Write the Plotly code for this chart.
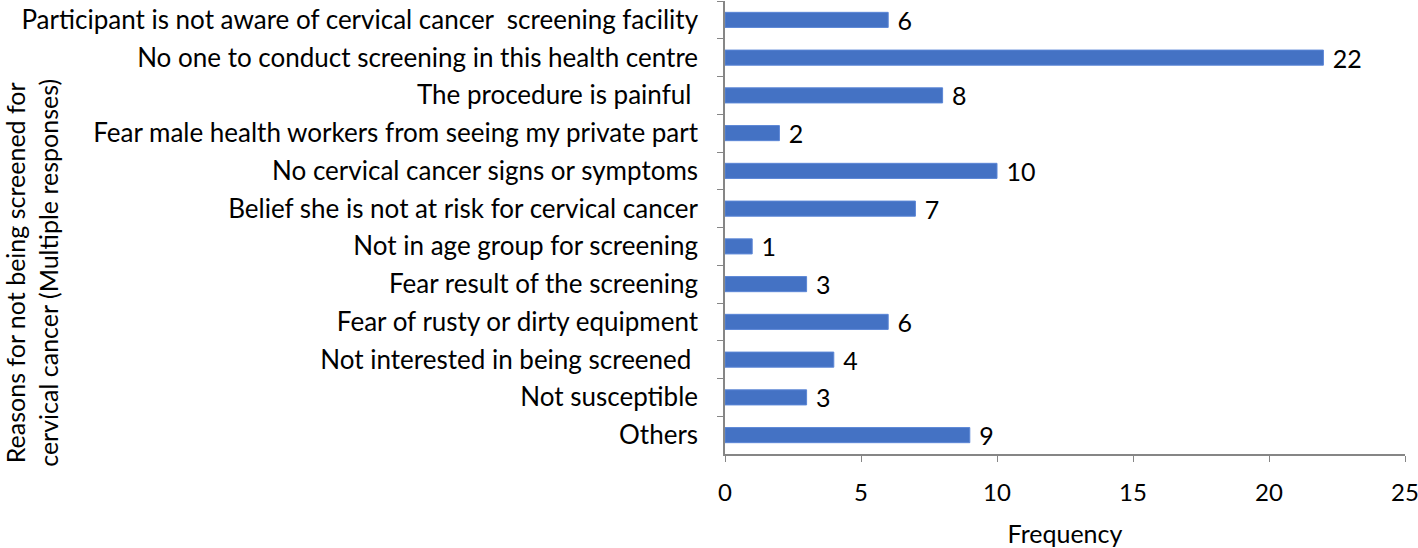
import plotly.graph_objects as go

categories = [
    "Participant is not aware of cervical cancer  screening facility",
    "No one to conduct screening in this health centre",
    "The procedure is painful ",
    "Fear male health workers from seeing my private part",
    "No cervical cancer signs or symptoms",
    "Belief she is not at risk for cervical cancer",
    "Not in age group for screening",
    "Fear result of the screening",
    "Fear of rusty or dirty equipment",
    "Not interested in being screened ",
    "Not susceptible",
    "Others",
]
values = [6, 22, 8, 2, 10, 7, 1, 3, 6, 4, 3, 9]
x_ticks = [0, 5, 10, 15, 20, 25]

FONT = "Lato"
FS = 25
fig = go.Figure(go.Bar(
    y=categories, x=values, orientation="h",
    marker=dict(color="#4472C4", line=dict(color="#5B86D6", width=1)),
    text=[f" {v}" for v in values], textposition="outside",
    constraintext="none",
    textfont=dict(family=FONT, size=FS, color="black"),
    cliponaxis=False,
))

fig.update_layout(
    width=1418, height=548,
    margin=dict(l=725, r=13, t=1, b=94),
    plot_bgcolor="white", paper_bgcolor="white",
    bargap=0.6, showlegend=False,
    font=dict(family=FONT, size=FS, color="black"),
    xaxis=dict(
        range=[0, 25], tickvals=x_ticks, showgrid=False, zeroline=False,
        showline=True, linecolor="#868686", linewidth=1.5,
        ticks="outside", ticklen=6, tickcolor="#868686",
        tickfont=dict(size=24), automargin=False,
        ticklabelstandoff=10, ticklabeloverflow="allow",
        title=dict(text="Frequency", font=dict(size=FS), standoff=26),
    ),
    yaxis=dict(
        autorange="reversed", showgrid=False, zeroline=False,
        showline=True, linecolor="#868686", linewidth=1.5,
        ticks="outside", ticklen=6, tickcolor="#868686", tickson="boundaries",
        tickfont=dict(size=26), automargin=False,
        ticklabelstandoff=20, ticklabeloverflow="allow",
    ),
    annotations=[dict(
        text="Reasons for not being screened for<br>cervical cancer (Multiple responses)",
        textangle=-90, xref="paper", yref="paper",
        x=(32 - 725) / 680, y=0.40, xanchor="center", yanchor="middle",
        showarrow=False, font=dict(family=FONT, size=25, color="black"),
    )],
)

fig.write_html("out.html", config={"displayModeBar": False},
               post_script="document.body.style.margin='0';")
